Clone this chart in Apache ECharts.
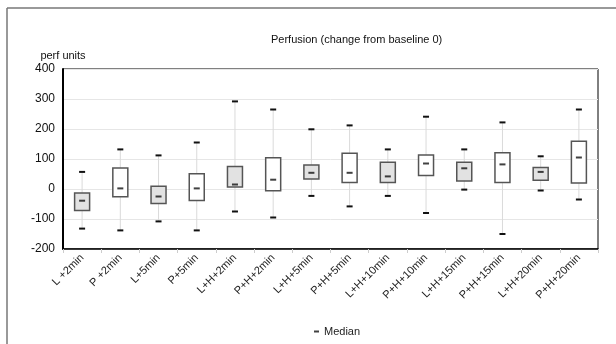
<!DOCTYPE html>
<html>
<head>
<meta charset="utf-8">
<script src="https://cdn.jsdelivr.net/npm/echarts@6/dist/echarts.min.js"></script>
<style>
html,body{margin:0;padding:0;background:#fff;}
#c{width:616px;height:344px;}
</style>
</head>
<body>
<div id="c"></div>
<script>
var categories = ['L +2min','P +2min','L+5min','P+5min','L+H+2min','P+H+2min','L+H+5min','P+H+5min','L+H+10min','P+H+10min','L+H+15min','P+H+15min','L+H+20min','P+H+20min'];
var lowWhisker = [-132,-138,-108,-138,-75,-95,-23,-58,-23,-80,-2,-150,-5,-35];
var q1Values   = [-72,-26,-48,-38,7,-6,33,22,22,45,27,22,29,20];
var q3Values   = [-13,70,9,51,75,104,80,119,89,113,89,121,72,159];
var highWhisker= [57,132,112,155,292,265,199,212,132,241,132,222,109,265];
var medians    = [-39,2,-25,2,15,31,54,54,42,85,69,82,57,105];
var yTicks = {min:-200, max:400, interval:100};

var boxData = categories.map(function(c,i){return [i, lowWhisker[i], q1Values[i], q3Values[i], highWhisker[i]];});
var medData = categories.map(function(c,i){return [i, medians[i]];});

var chart = echarts.init(document.getElementById('c'), null, {renderer:'canvas'});
var font = '"Liberation Sans", Arial, sans-serif';
chart.setOption({
  animation:false,
  backgroundColor:'#fff',
  textStyle:{fontFamily:font},
  title:{text:'Perfusion (change from baseline 0)', left:266, top:29,
    textStyle:{fontSize:11, fontWeight:'normal', color:'#111', fontFamily:font}},
  legend:{data:[{name:'Median', icon:'rect'}], left:309, top:321, itemWidth:5, itemHeight:2,
    textStyle:{fontSize:11, color:'#222', fontFamily:font}},
  grid:{left:63, right:18, top:69, bottom:95, show:true, borderColor:'#000', borderWidth:1, backgroundColor:'transparent'},
  xAxis:{type:'category', data:categories, boundaryGap:true,
    axisLine:{onZero:false, lineStyle:{color:'#000', width:1.5}},
    axisTick:{show:true, length:4, lineStyle:{color:'#ccc'}},
    axisLabel:{rotate:45, fontSize:11, color:'#222', margin:7, interval:0, fontFamily:font},
    splitLine:{show:false}},
  yAxis:{type:'value', min:yTicks.min, max:yTicks.max, interval:yTicks.interval,
    name:'perf units', nameLocation:'end', nameGap:8,
    nameTextStyle:{fontSize:11, color:'#111', fontFamily:font},
    axisLine:{show:true, onZero:false, lineStyle:{color:'#000', width:2}},
    axisTick:{show:false},
    axisLabel:{fontSize:12, color:'#111', margin:8, fontFamily:font},
    splitLine:{show:true, lineStyle:{color:'#e6e6e6', width:1}}},
  graphic:[
    {type:'line', shape:{x1:7, y1:8, x2:616, y2:8}, style:{stroke:'#777', lineWidth:1.5}, silent:true},
    {type:'line', shape:{x1:7, y1:8, x2:7, y2:344}, style:{stroke:'#777', lineWidth:1.5}, silent:true}
  ],
  series:[
    {type:'custom', name:'box', data:boxData,
      encode:{x:0, y:[1,2,3,4]},
      renderItem:function(params, api){
        var i = api.value(0);
        var pLow = api.coord([i, api.value(1)]);
        var pQ1 = api.coord([i, api.value(2)]);
        var pQ3 = api.coord([i, api.value(3)]);
        var pHigh = api.coord([i, api.value(4)]);
        var cx = pLow[0];
        var half = 7.5;
        var grey = categories[i].charAt(0) === 'L';
        return {type:'group', children:[
          {type:'line', shape:{x1:cx, y1:pLow[1], x2:cx, y2:pHigh[1]}, style:{stroke:'#dadada', lineWidth:1}},
          {type:'rect', shape:{x:cx-half, y:pQ3[1], width:half*2, height:pQ1[1]-pQ3[1]},
            style:{fill: grey ? '#e2e2e2' : '#fff', stroke:'#555', lineWidth:1.5}},
          {type:'rect', shape:{x:cx-3, y:pLow[1]-1, width:6, height:2}, style:{fill:'#111'}},
          {type:'rect', shape:{x:cx-3, y:pHigh[1]-1, width:6, height:2}, style:{fill:'#111'}}
        ]};
      }, z:2},
    {type:'scatter', name:'Median', data:medData, symbol:'rect', symbolSize:[6,2],
      itemStyle:{color:'#111'}, z:5}
  ]
});
</script>
</body>
</html>
